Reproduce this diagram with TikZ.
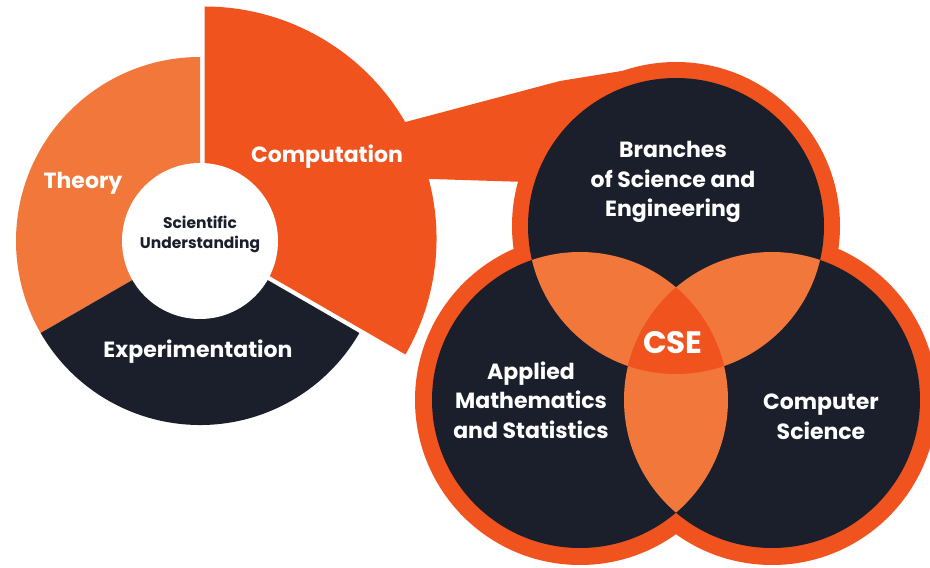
\documentclass[tikz,border=0pt]{standalone}
\usepackage{fontspec}
\setmainfont{Poppins}
\definecolor{orangeD}{HTML}{F0531E}
\definecolor{orangeL}{HTML}{F2773A}
\definecolor{navy}{HTML}{1A1F2B}
\begin{document}
\begin{tikzpicture}[x=1pt,y=1pt,
  lbl/.style={text=white,font=\fontsize{22}{29.5}\selectfont\bfseries,align=center,inner sep=0pt},
  centrelbl/.style={text=navy,font=\fontsize{15.5}{19.5}\selectfont\bfseries,align=center,inner sep=0pt},
  cselbl/.style={text=white,font=\fontsize{31}{33}\selectfont\bfseries,inner sep=0pt}]
\fill[white] (0,0) rectangle (930,568);
\useasboundingbox (0,0) rectangle (930,568);

% centres
\coordinate (hub) at (200,327);
\coordinate (comphub) at (204.5,329.5);
\coordinate (vt) at (676,342);
\coordinate (vl) at (580,168);
\coordinate (vr) at (772,168);

% band joining the computation wedge to the Venn diagram
\fill[orangeD] (398,444) -- (560,487) -- (640,500) -- (620,383) -- (400,390) -- cycle;

% donut sectors
\fill[orangeL] (hub) -- ++(90:184) arc[start angle=90,end angle=210,radius=184] -- cycle;
\fill[navy] (hub) -- ++(210:184) arc[start angle=210,end angle=330,radius=184] -- cycle;
\fill[orangeD] (comphub) -- ++(-30:232) arc[start angle=-30,end angle=90,radius=232] -- cycle;
\fill[white] (hub) circle[radius=78];

% Venn diagram: outer ring, circles, pairwise and triple overlaps
\fill[orangeD] (vt) circle[radius=164] (vl) circle[radius=165] (vr) circle[radius=165];
\fill[navy] (vt) circle[radius=148] (vl) circle[radius=148] (vr) circle[radius=148];
\begin{scope}
  \clip (vt) circle[radius=148];
  \fill[orangeL] (vl) circle[radius=148] (vr) circle[radius=148];
\end{scope}
\begin{scope}
  \clip (vl) circle[radius=148];
  \fill[orangeL] (vr) circle[radius=148];
\end{scope}
\begin{scope}
  \clip (vt) circle[radius=148];
  \clip (vl) circle[radius=148];
  \fill[orangeD] (vr) circle[radius=148];
\end{scope}

% labels
\node[lbl] (theory) at (83,385) {Theory};
\node[lbl] (computation) at (327,411) {Computation};
\node[lbl] (experimentation) at (198,216) {Experimentation};
\node[centrelbl] (understanding) at (200,333.5) {Scientific\\Understanding};
\node[lbl] (branches) at (673,386) {Branches\\of Science and\\Engineering};
\node[lbl] (applied) at (531,168) {Applied\\Mathematics\\and Statistics};
\node[lbl] (cs) at (821,151) {Computer\\Science};
\node[cselbl] (cse) at (673,225) {CSE};
\end{tikzpicture}
\end{document}
